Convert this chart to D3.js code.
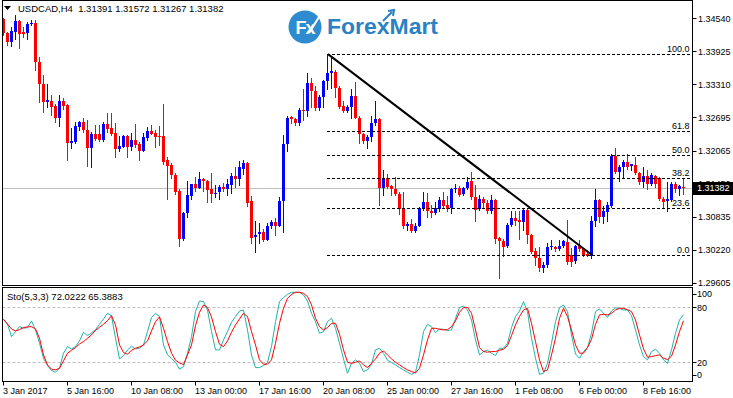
<!DOCTYPE html>
<html>
<head>
<meta charset="utf-8">
<script src="https://cdn.jsdelivr.net/npm/d3@7"></script>
<style>
  body { margin: 0; background: #fff; }
  svg { display: block; font-family: "Liberation Sans", Arial, sans-serif; }
</style>
</head>
<body>
<svg id="chart" width="733" height="398"></svg>
<script>
// USDCAD H4 bars
const open = [
  1.3452,1.3427,1.3410,1.3429,1.3449,1.3429,1.3426,1.3443,1.3446,1.3373,
  1.3331,1.3298,1.3300,1.3291,1.3269,1.3300,1.3292,1.3222,1.3224,1.3252,
  1.3260,1.3246,1.3212,1.3238,1.3238,1.3228,1.3257,1.3250,1.3240,1.3210,
  1.3215,1.3235,1.3215,1.3228,1.3219,1.3207,1.3231,1.3244,1.3240,1.3235,
  1.3235,1.3190,1.3181,1.3162,1.3132,1.3043,1.3091,1.3123,1.3145,1.3138,
  1.3154,1.3151,1.3135,1.3126,1.3131,1.3140,1.3136,1.3144,1.3160,1.3154,
  1.3174,1.3184,1.3114,1.3047,1.3052,1.3056,1.3041,1.3067,1.3075,1.3067,
  1.3114,1.3219,1.3271,1.3266,1.3258,1.3283,1.3282,1.3334,1.3319,1.3286,
  1.3307,1.3338,1.3353,1.3354,1.3325,1.3291,1.3282,1.3288,1.3309,1.3269,
  1.3238,1.3225,1.3232,1.3258,1.3266,1.3138,1.3157,1.3141,1.3135,1.3127,
  1.3099,1.3066,1.3070,1.3058,1.3067,1.3100,1.3111,1.3095,1.3091,1.3099,
  1.3115,1.3106,1.3100,1.3135,1.3137,1.3126,1.3137,1.3150,1.3120,1.3098,
  1.3118,1.3109,1.3094,1.3115,1.3044,1.3039,1.3030,1.3069,1.3081,1.3078,
  1.3075,1.3097,1.3050,1.3020,1.3007,1.2989,1.2995,1.3027,1.3028,1.3023,
  1.3030,1.3037,1.3013,1.3002,1.3030,1.3023,1.3014,1.3011,1.3077,1.3115,
  1.3083,1.3092,1.3104,1.3197,1.3168,1.3177,1.3187,1.3179,1.3181,1.3166,
  1.3148,1.3160,1.3145,1.3160,1.3156,1.3118,1.3114,1.3115,1.3145,1.3135,
  1.31391];
const high = [
  1.3454,1.3429,1.3438,1.3460,1.3451,1.3438,1.3448,1.3451,1.3451,1.3382,
  1.3348,1.3331,1.3311,1.3295,1.3311,1.3305,1.3295,1.3249,1.3261,1.3263,
  1.3268,1.3264,1.3243,1.3255,1.3255,1.3261,1.3277,1.3278,1.3258,1.3235,
  1.3236,1.3236,1.3240,1.3257,1.3224,1.3241,1.3252,1.3255,1.3246,1.3253,
  1.3294,1.3196,1.3184,1.3166,1.3135,1.3092,1.3151,1.3146,1.3159,1.3168,
  1.3156,1.3153,1.3166,1.3143,1.3143,1.3147,1.3154,1.3166,1.3177,1.3188,
  1.3190,1.3187,1.3122,1.3077,1.3073,1.3061,1.3072,1.3078,1.3081,1.3120,
  1.3236,1.3272,1.3272,1.3269,1.3286,1.3323,1.3353,1.3342,1.3328,1.3311,
  1.3340,1.3387,1.3382,1.3358,1.3328,1.3300,1.3292,1.3322,1.3336,1.3272,
  1.3240,1.3236,1.3272,1.3300,1.3268,1.3171,1.3164,1.3143,1.3159,1.3131,
  1.3131,1.3075,1.3079,1.3072,1.3103,1.3131,1.3129,1.3106,1.3112,1.3120,
  1.3131,1.3123,1.3137,1.3145,1.3141,1.3140,1.3159,1.3168,1.3143,1.3125,
  1.3121,1.3115,1.3125,1.3118,1.3047,1.3042,1.3072,1.3094,1.3094,1.3094,
  1.3100,1.3100,1.3052,1.3025,1.3027,1.3000,1.3035,1.3041,1.3030,1.3041,
  1.3041,1.3078,1.3025,1.3031,1.3041,1.3025,1.3022,1.3085,1.3135,1.3118,
  1.3104,1.3112,1.3202,1.3212,1.3181,1.3190,1.3201,1.3182,1.3196,1.3168,
  1.3177,1.3171,1.3166,1.3162,1.3158,1.3121,1.3148,1.3148,1.3148,1.3143,
  1.31572];
const low = [
  1.3423,1.3404,1.3403,1.3416,1.3398,1.3420,1.3416,1.3441,1.3358,1.3298,
  1.3280,1.3289,1.3274,1.3261,1.3253,1.3285,1.3190,1.3212,1.3221,1.3246,
  1.3243,1.3179,1.3177,1.3227,1.3225,1.3226,1.3243,1.3236,1.3196,1.3207,
  1.3214,1.3196,1.3208,1.3214,1.3190,1.3206,1.3228,1.3238,1.3215,1.3218,
  1.3182,1.3118,1.3157,1.3126,1.3030,1.3041,1.3083,1.3118,1.3132,1.3137,
  1.3132,1.3112,1.3112,1.3120,1.3117,1.3133,1.3125,1.3129,1.3140,1.3143,
  1.3163,1.3104,1.3035,1.3019,1.3035,1.3038,1.3040,1.3064,1.3050,1.3067,
  1.3055,1.3207,1.3258,1.3255,1.3255,1.3264,1.3272,1.3289,1.3283,1.3283,
  1.3289,1.3322,1.3325,1.3307,1.3286,1.3280,1.3280,1.3268,1.3268,1.3221,
  1.3221,1.3212,1.3226,1.3255,1.3106,1.3125,1.3137,1.3125,1.3125,1.3089,
  1.3063,1.3060,1.3055,1.3056,1.3066,1.3097,1.3084,1.3083,1.3089,1.3094,
  1.3100,1.3094,1.3091,1.3131,1.3123,1.3125,1.3135,1.3118,1.3077,1.3097,
  1.3103,1.3091,1.3091,1.3035,1.2970,1.3011,1.3028,1.3066,1.3069,1.3042,
  1.3060,1.3035,1.3016,1.2994,1.2982,1.2981,1.2991,1.3023,1.3021,1.3022,
  1.3027,1.2996,1.2992,1.2998,1.3021,1.3011,1.3010,1.3008,1.3067,1.3075,
  1.3073,1.3077,1.3103,1.3165,1.3151,1.3159,1.3174,1.3171,1.3164,1.3145,
  1.3140,1.3135,1.3143,1.3140,1.3115,1.3103,1.3094,1.3114,1.3131,1.3125,
  1.31267];
const close = [
  1.3426,1.3410,1.3431,1.3449,1.3425,1.3425,1.3444,1.3446,1.3373,1.3331,
  1.3298,1.3302,1.3289,1.3269,1.3300,1.3291,1.3222,1.3225,1.3253,1.3260,
  1.3246,1.3212,1.3238,1.3230,1.3227,1.3257,1.3248,1.3238,1.3210,1.3216,
  1.3235,1.3215,1.3228,1.3218,1.3207,1.3232,1.3244,1.3239,1.3233,1.3233,
  1.3187,1.3179,1.3161,1.3131,1.3043,1.3091,1.3125,1.3145,1.3138,1.3154,
  1.3150,1.3134,1.3126,1.3129,1.3140,1.3136,1.3145,1.3160,1.3154,1.3177,
  1.3184,1.3110,1.3045,1.3050,1.3056,1.3041,1.3067,1.3075,1.3067,1.3114,
  1.3219,1.3268,1.3266,1.3258,1.3283,1.3282,1.3334,1.3319,1.3286,1.3307,
  1.3338,1.3353,1.3356,1.3325,1.3289,1.3282,1.3288,1.3309,1.3269,1.3238,
  1.3225,1.3233,1.3258,1.3266,1.3138,1.3157,1.3140,1.3135,1.3126,1.3098,
  1.3066,1.3070,1.3058,1.3067,1.3100,1.3111,1.3094,1.3091,1.3100,1.3115,
  1.3104,1.3099,1.3135,1.3137,1.3125,1.3137,1.3148,1.3120,1.3097,1.3118,
  1.3109,1.3094,1.3115,1.3042,1.3038,1.3028,1.3069,1.3081,1.3077,1.3075,
  1.3097,1.3050,1.3019,1.3007,1.2989,1.2995,1.3027,1.3030,1.3023,1.3030,
  1.3038,1.3000,1.3000,1.3030,1.3023,1.3013,1.3011,1.3077,1.3115,1.3084,
  1.3094,1.3106,1.3197,1.3168,1.3177,1.3187,1.3177,1.3182,1.3165,1.3148,
  1.3160,1.3145,1.3161,1.3146,1.3118,1.3112,1.3117,1.3145,1.3135,1.3141,
  1.31382];

// Sto(5,3,3): main (%K) and signal (%D)
const stoMain = [
  66.9,61.5,48.0,53.5,58.9,57.1,57.9,65.1,55.3,40.8,
  24.4,16.4,11.0,9.1,13.5,29.9,37.1,34.6,37.1,43.3,
  52.8,49.1,52.0,55.7,61.5,67.3,73.5,70.6,46.2,23.7,
  27.3,33.5,37.5,34.6,35.3,38.9,53.5,68.8,73.5,69.9,
  38.9,28.0,24.4,20.0,12.4,15.3,29.9,48.0,75.3,86.9,
  86.2,77.1,53.5,33.5,33.5,44.4,53.5,63.7,69.9,76.0,
  77.1,55.3,28.0,14.2,14.2,16.4,19.7,37.1,64.4,86.2,
  90.6,94.2,96.4,96.4,96.4,93.5,86.9,73.5,64.4,51.7,
  53.5,64.4,68.0,57.1,40.8,23.7,8.0,18.9,22.6,18.9,
  9.9,11.7,17.9,33.5,35.3,29.9,22.2,19.7,17.1,14.2,
  11.7,9.1,6.9,9.1,28.0,53.5,61.5,58.9,52.4,56.4,
  56.0,54.6,55.3,68.0,79.7,81.5,77.1,66.2,44.4,28.0,
  31.7,33.1,29.9,27.3,35.3,35.3,40.8,57.9,69.9,76.0,
  86.2,75.3,46.2,24.4,6.9,8.0,18.9,40.8,64.4,79.7,
  82.6,75.3,49.9,29.1,24.4,31.7,36.0,51.7,75.3,78.2,
  73.5,69.1,76.0,79.3,78.9,77.1,77.1,70.9,55.3,38.9,
  26.2,22.6,31.7,34.2,29.9,22.6,18.9,33.5,51.7,66.2,
  72.0222];
const stoSignal = [
  66.9,61.8,56.4,54.2,55.7,57.9,58.6,58.9,56.4,46.2,
  28.0,17.1,12.4,11.7,13.5,21.5,29.9,33.1,36.0,40.0,
  42.6,46.2,49.9,54.9,58.2,61.5,65.5,70.9,60.8,38.9,
  30.6,28.8,33.1,35.3,36.8,38.9,43.3,54.2,64.4,69.5,
  57.1,42.6,29.9,22.2,19.3,17.5,28.0,38.9,60.0,74.6,
  82.6,79.7,69.5,53.5,39.7,37.1,43.3,52.8,60.8,67.3,
  73.5,69.9,53.5,38.9,22.6,17.9,17.9,22.6,40.8,62.6,
  78.9,89.8,94.2,96.4,96.4,95.3,91.7,82.6,68.0,58.9,
  55.3,57.9,62.6,62.6,50.6,33.5,20.0,18.9,20.0,21.5,
  17.1,14.2,18.9,23.7,29.9,32.4,28.0,23.7,20.0,17.1,
  14.2,11.7,9.9,8.4,13.5,28.0,44.4,57.1,57.1,56.0,
  55.3,55.7,58.9,65.1,74.6,79.7,80.0,73.5,55.3,36.0,
  31.7,31.0,31.7,31.7,33.1,34.2,38.2,49.1,60.8,69.9,
  77.1,78.9,62.6,42.6,22.6,9.9,11.7,28.0,46.2,68.0,
  78.9,69.9,55.3,38.9,29.9,29.9,36.0,45.1,61.5,71.7,
  72.4,71.7,73.5,77.1,78.9,78.9,77.5,75.3,66.2,49.9,
  34.6,25.5,26.2,27.3,28.0,24.4,22.9,26.6,38.9,53.5,
  65.3883];

const priceTicks = [1.34540, 1.33925, 1.33310, 1.32695, 1.32065, 1.31450, 1.30835, 1.30220, 1.29605];
const stoTicks = [100, 80, 20, 0];
const stoLevels = [80, 20];
const timeTickBars = [0, 16, 32, 48, 64, 80, 96, 112, 128, 144, 160];
const timeLabels = ["3 Jan 2017", "5 Jan 16:00", "10 Jan 08:00", "13 Jan 00:00", "17 Jan 16:00",
  "20 Jan 08:00", "25 Jan 00:00", "27 Jan 16:00", "1 Feb 08:00", "6 Feb 00:00", "8 Feb 16:00"];

// fibonacci retracement anchors (bar index, price)
const fibHigh = { bar: 81, price: 1.33873 };
const fibLow = { bar: 147, price: 1.30127 };
const fibLevels = [0, 23.6, 38.2, 50, 61.8, 100];

const svg = d3.select("#chart");
const left = 2.5, right = 692.5;
const mainTop = 0.5, mainBottom = 285.5;
const subTop = 287.5, subBottom = 381.5;
const font = 9;

const x = d3.scaleLinear().domain([0, 170]).range([3, 683]);
const y = d3.scaleLinear().domain([1.29605, 1.34540]).range([283, 18.4]);
const ys = d3.scaleLinear().domain([0, 100]).range([380.6, 289]);

const defs = svg.append("defs");
defs.append("clipPath").attr("id", "mainClip").append("rect")
  .attr("x", left).attr("y", mainTop).attr("width", right - left).attr("height", mainBottom - mainTop);
defs.append("clipPath").attr("id", "subClip").append("rect")
  .attr("x", left).attr("y", subTop).attr("width", right - left).attr("height", subBottom - subTop);

const bars = close.map((c, i) => ({ i, o: open[i], h: high[i], l: low[i], c }));
const last = bars[bars.length - 1];

const main = svg.append("g").attr("clip-path", "url(#mainClip)");

// current price line
main.append("line")
  .attr("x1", left).attr("x2", right)
  .attr("y1", Math.round(y(last.c)) + 0.5).attr("y2", Math.round(y(last.c)) + 0.5)
  .attr("stroke", "#c0c0c0");

// logo
const logo = main.append("g");
logo.append("circle").attr("cx", 305).attr("cy", 27).attr("r", 16.5).attr("fill", "#2f8bd0");
logo.append("text").attr("x", 305).attr("y", 34).attr("fill", "#fff")
  .attr("text-anchor", "middle").attr("font-size", 18).attr("font-weight", "bold")
  .attr("letter-spacing", -1).text("Fx");
logo.append("line").attr("x1", 309).attr("y1", 33).attr("x2", 319).attr("y2", 17)
  .attr("stroke", "#fff").attr("stroke-width", 2);
logo.append("text").attr("x", 327).attr("y", 34).attr("fill", "#2a82c4")
  .attr("font-size", 22).attr("font-weight", "bold")
  .attr("textLength", 111).attr("lengthAdjust", "spacingAndGlyphs").text("ForexMart");
logo.append("path").attr("d", "M383,21 L392,12 M388,11 L394,10 L393,16")
  .attr("stroke", "#2a82c4").attr("stroke-width", 2).attr("fill", "none");

// candles
main.selectAll("line.wick").data(bars).join("line")
  .attr("class", "wick")
  .attr("x1", d => x(d.i) + 0.5).attr("x2", d => x(d.i) + 0.5)
  .attr("y1", d => Math.round(y(d.h))).attr("y2", d => Math.round(y(d.l)) + 1)
  .attr("stroke", d => d.c >= d.o ? "#0000ff" : "#ff0000");
main.selectAll("rect.body").data(bars).join("rect")
  .attr("class", "body")
  .attr("x", d => x(d.i) - 1)
  .attr("y", d => Math.round(y(Math.max(d.o, d.c))))
  .attr("width", 3)
  .attr("height", d => Math.max(1, Math.round(y(Math.min(d.o, d.c))) - Math.round(y(Math.max(d.o, d.c)))))
  .attr("fill", d => d.c >= d.o ? "#0000ff" : "#ff0000");

// fibonacci levels
const fibPrice = lv => fibLow.price + (fibHigh.price - fibLow.price) * lv / 100;
main.selectAll("line.fib").data(fibLevels).join("line")
  .attr("class", "fib")
  .attr("x1", x(fibHigh.bar)).attr("x2", right - 2)
  .attr("y1", d => Math.round(y(fibPrice(d))) + 0.5).attr("y2", d => Math.round(y(fibPrice(d))) + 0.5)
  .attr("stroke", "#000").attr("stroke-dasharray", "3,2");
main.selectAll("text.fib").data(fibLevels).join("text")
  .attr("class", "fib")
  .attr("x", right - 3).attr("y", d => Math.round(y(fibPrice(d))) - 2)
  .attr("text-anchor", "end").attr("font-size", font).attr("fill", "#000")
  .text(d => d.toFixed(1));

// trendline
main.append("line")
  .attr("x1", x(fibHigh.bar) + 1).attr("y1", y(fibHigh.price))
  .attr("x2", x(fibLow.bar) + 1).attr("y2", y(fibLow.price))
  .attr("stroke", "#000").attr("stroke-width", 2);

// title
svg.append("path").attr("d", "M4,6 L11,6 L7.5,10 Z").attr("fill", "#000");
svg.append("text").attr("x", 18).attr("y", 12).attr("font-size", font + 0.5)
  .style("white-space", "pre")
  .text("USDCAD,H4  1.31391 1.31572 1.31267 1.31382");

// stochastic panel
const sub = svg.append("g").attr("clip-path", "url(#subClip)");
sub.selectAll("line.level").data(stoLevels).join("line")
  .attr("class", "level")
  .attr("x1", left).attr("x2", right)
  .attr("y1", d => Math.round(ys(d)) + 0.5).attr("y2", d => Math.round(ys(d)) + 0.5)
  .attr("stroke", "#c0c0c0").attr("stroke-dasharray", "3,2");
const stoLine = d3.line().x((d, i) => x(i) + 0.5).y(d => ys(d));
sub.append("path").datum(stoMain).attr("d", stoLine)
  .attr("fill", "none").attr("stroke", "#20b2aa").attr("stroke-width", 1);
sub.append("path").datum(stoSignal).attr("d", stoLine)
  .attr("fill", "none").attr("stroke", "#ff0000").attr("stroke-width", 1);
svg.append("text").attr("x", 7).attr("y", 300).attr("font-size", font + 0.5)
  .style("white-space", "pre")
  .text("Sto(5,3,3) " + stoMain[stoMain.length - 1].toFixed(4) + " " + stoSignal[stoSignal.length - 1].toFixed(4));

// frames
svg.append("rect").attr("x", left).attr("y", mainTop)
  .attr("width", right - left).attr("height", mainBottom - mainTop)
  .attr("fill", "none").attr("stroke", "#000");
svg.append("rect").attr("x", left).attr("y", subTop)
  .attr("width", right - left).attr("height", subBottom - subTop)
  .attr("fill", "none").attr("stroke", "#000");

// price axis
const pAxis = svg.append("g");
pAxis.selectAll("line").data(priceTicks).join("line")
  .attr("x1", right).attr("x2", right + 4)
  .attr("y1", d => Math.round(y(d)) + 0.5).attr("y2", d => Math.round(y(d)) + 0.5)
  .attr("stroke", "#000");
pAxis.selectAll("text").data(priceTicks).join("text")
  .attr("x", 698).attr("y", d => y(d) + 3.3)
  .attr("font-size", font).text(d => d.toFixed(5));

// current price tag (partly covers the 1.31450 label, as in MT4)
const py = y(last.c);
svg.append("rect").attr("x", 693).attr("y", Math.round(py) - 6)
  .attr("width", 40).attr("height", 13).attr("fill", "#000");
svg.append("text").attr("x", 697).attr("y", py + 3.3)
  .attr("font-size", font).attr("fill", "#fff").text(last.c.toFixed(5));

// stochastic axis
const sAxis = svg.append("g");
const sLabelY = d => Math.min(Math.max(ys(d), subTop + 6), subBottom - 7);
sAxis.selectAll("line").data(stoTicks).join("line")
  .attr("x1", right).attr("x2", right + 4)
  .attr("y1", d => Math.round(sLabelY(d)) + 0.5).attr("y2", d => Math.round(sLabelY(d)) + 0.5)
  .attr("stroke", "#000");
sAxis.selectAll("text").data(stoTicks).join("text")
  .attr("x", 697).attr("y", d => sLabelY(d) + 3.3)
  .attr("font-size", font).text(d => d);

// time axis
const tAxis = svg.append("g");
tAxis.selectAll("line").data(timeTickBars).join("line")
  .attr("x1", d => x(d) + 0.5).attr("x2", d => x(d) + 0.5)
  .attr("y1", subBottom).attr("y2", subBottom + 4)
  .attr("stroke", "#000");
tAxis.selectAll("text").data(timeTickBars).join("text")
  .attr("x", d => x(d)).attr("y", 394)
  .attr("font-size", font).text((d, i) => timeLabels[i]);
</script>
</body>
</html>
